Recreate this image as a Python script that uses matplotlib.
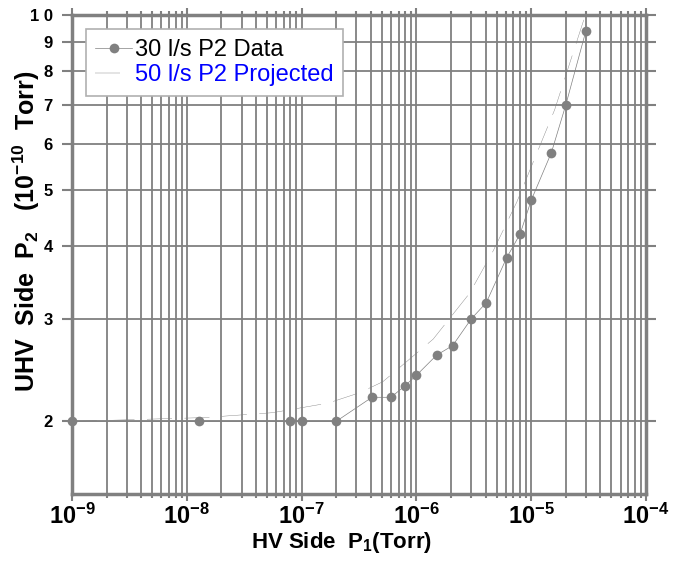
import matplotlib
matplotlib.use('Agg')
import matplotlib.pyplot as plt
from matplotlib.ticker import FixedLocator, LogLocator, NullLocator, NullFormatter

plt.rcParams['font.family'] = ['Liberation Sans', 'DejaVu Sans']
plt.rcParams['mathtext.fontset'] = 'custom'
plt.rcParams['mathtext.rm'] = 'Liberation Sans'
plt.rcParams['mathtext.bf'] = 'Liberation Sans:bold'
plt.rcParams['lines.scale_dashes'] = False

# measured data, 30 l/s pump
p1_data = [1e-9, 1.27e-8, 7.9e-8, 1.0e-7, 2.0e-7, 4.1e-7, 6.0e-7, 7.9e-7, 1.0e-6,
           1.5e-6, 2.07e-6, 3.0e-6, 4.06e-6, 6.1e-6, 8.0e-6, 1.0e-5, 1.5e-5, 2.0e-5, 3.0e-5]
p2_data = [2.0, 2.0, 2.0, 2.0, 2.0, 2.2, 2.2, 2.3, 2.4,
           2.6, 2.7, 3.0, 3.2, 3.82, 4.2, 4.8, 5.8, 7.0, 9.4]

# projected curve, 50 l/s pump
p1_proj = [1e-9, 1.4e-8, 5.6e-8, 1.7e-7, 3.2e-7, 5.1e-7, 1.4e-6, 2.9e-6, 4.7e-6, 7.5e-6, 1.6e-5, 2.9e-5]
p2_proj = [2.0, 2.03, 2.07, 2.15, 2.24, 2.34, 2.77, 3.32, 3.94, 4.77, 6.87, 9.87]

x_decades = [1e-9, 1e-8, 1e-7, 1e-6, 1e-5, 1e-4]
x_labels = [r'$\mathbf{10^{-9}}$', r'$\mathbf{10^{-8}}$', r'$\mathbf{10^{-7}}$',
            r'$\mathbf{10^{-6}}$', r'$\mathbf{10^{-5}}$', r'$\mathbf{10^{-4}}$']
y_ticks = [2, 3, 4, 5, 6, 7, 8, 9, 10]
y_labels = ['2', '3', '4', '5', '6', '7', '8', '9', '1 0']

gray = '#808080'

fig = plt.figure(figsize=(6.86, 5.69), dpi=100)
ax = fig.add_axes([72 / 686, 1 - 494 / 569, 574 / 686, 479 / 569])
ax.set_xscale('log')
ax.set_yscale('log')
ax.set_xlim(1e-9, 1e-4)
ax.set_ylim(1.5, 10)

ax.plot(p1_proj, p2_proj, color=gray, lw=0.3, linestyle=(0, (18, 9)),
        label='50 l/s P2 Projected', zorder=3)
ax.plot(p1_data, p2_data, color=gray, lw=0.5, marker='o', markersize=7,
        markeredgewidth=0, label='30 l/s P2 Data', clip_on=False, zorder=4)

ax.xaxis.set_major_locator(FixedLocator(x_decades))
ax.xaxis.set_minor_locator(LogLocator(base=10, subs=range(2, 10)))
ax.xaxis.set_minor_formatter(NullFormatter())
ax.set_xticklabels(x_labels, fontsize=17)
ax.yaxis.set_major_locator(FixedLocator(y_ticks))
ax.yaxis.set_minor_locator(NullLocator())
ax.set_yticklabels(y_labels, fontsize=12, fontweight='bold')

ax.grid(which='both', color=gray, lw=1.3)
for s in ax.spines.values():
    s.set_color(gray)
    s.set_linewidth(2.5)

ax.tick_params(which='both', direction='out', color=gray, width=1.5,
               top=True, right=True)
ax.tick_params(axis='y', which='major', length=7, pad=7)
ax.tick_params(axis='x', which='major', length=5, pad=2)
ax.tick_params(axis='x', which='minor', length=3)

ax.set_xlabel(r'HV Side  P$_\mathbf{1}$(Torr)', fontsize=16, fontweight='bold')
ax.xaxis.set_label_coords(0.47, -0.075)
ax.set_ylabel(r'UHV  Side  P$_\mathbf{2}$   (10$^\mathbf{-10}$  Torr)', fontsize=18, fontweight='bold')
ax.yaxis.set_label_coords(-0.052, 0.548)

handles, labels = ax.get_legend_handles_labels()
leg = ax.legend(handles[::-1], labels[::-1], loc='upper left', bbox_to_anchor=(0.024, 0.97),
                borderaxespad=0, fancybox=False, framealpha=1, edgecolor='#b0b0b0',
                fontsize=17, handlelength=1.55, handletextpad=0.12, labelspacing=0.15,
                borderpad=0.4)
leg.get_frame().set_linewidth(1.2)
leg.get_texts()[1].set_color('#0000ff')

fig.savefig('out.png', dpi=100)
